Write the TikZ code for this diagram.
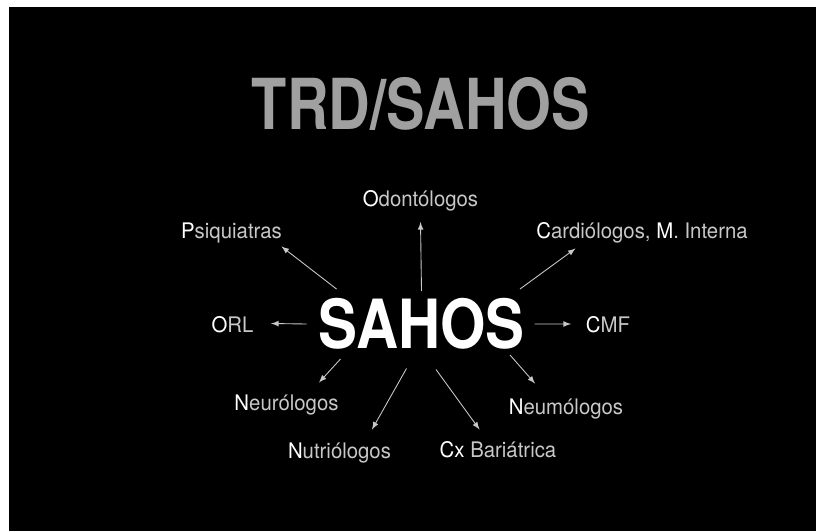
\documentclass[tikz,border=0pt]{standalone}
\usepackage{fontspec}
\usepackage{tikz}
\usetikzlibrary{arrows}
\tikzset{>=latex}
\newfontfamily\labelfont[FakeStretch=0.95]{TeX Gyre Heros}
\newfontfamily\titlefont[FakeStretch=0.82]{TeX Gyre Heros}
\newfontfamily\sahosfont[FakeStretch=0.86]{TeX Gyre Heros}
\definecolor{mygray1}{RGB}{160,160,160}
\definecolor{mygray2}{RGB}{200,200,200}
\newcommand{\W}[1]{{\color{white}#1}}
\tikzset{lbl/.style={anchor=base, inner sep=0pt, text=mygray2, font=\labelfont\fontsize{12.2}{14}\selectfont},
  arr/.style={->, >=latex, mygray2, line width=0.5pt}}

\begin{document}
\begin{tikzpicture}[scale = 1]
\useasboundingbox (0,0) rectangle (16.32,10.62);
\fill[white] (0,0) rectangle (16.32,10.62);
\fill[black] (0.18,0) rectangle (16.32,10.48);
% title and centre word
\node[anchor=base, inner sep=0pt, text=mygray1, font=\titlefont\bfseries\fontsize{40}{44}\selectfont] (title) at (8.42,8.02) {TRD/SAHOS};
\node[anchor=base, inner sep=0pt, text=white, font=\sahosfont\bfseries\fontsize{38.6}{42}\selectfont] (sahos) at (8.43,3.65) {SAHOS};
% specialists
\node[lbl] (odont) at (8.41,6.48) {\W{O}dontólogos};
\node[lbl] (psiq) at (4.63,5.86) {\W{P}siquiatras};
\node[lbl] (cardio) at (12.84,5.86) {\W{C}ardiólogos, \W{M}. Interna};
\node[lbl] (orl) at (4.65,3.98) {\W{O}RL};
\node[lbl] (cmf) at (12.16,3.98) {\W{C}MF};
\node[lbl] (neuro) at (5.73,2.41) {\W{N}eurólogos};
\node[lbl] (neumo) at (11.32,2.34) {\W{N}eumólogos};
\node[lbl] (nutri) at (6.79,1.45) {\W{N}utriólogos};
\node[lbl] (cx) at (9.96,1.47) {\W{Cx} Bariátrica};
% arrows
\draw[arr] ([shift={(-1.70,1.19)}]sahos.base) -- ([shift={(1.00,-0.17)}]psiq.base);
\draw[arr] ([shift={(0,1.15)}]sahos.base) -- ([shift={(0,-0.30)}]odont.base);
\draw[arr] ([shift={(1.97,1.19)}]sahos.base) -- ([shift={(-1.33,-0.21)}]cardio.base);
\draw[arr] ([shift={(-2.30,0.49)}]sahos.base) -- ([shift={(0.77,0.17)}]orl.base);
\draw[arr] ([shift={(2.26,0.49)}]sahos.base) -- ([shift={(-0.74,0.16)}]cmf.base);
\draw[arr] ([shift={(-1.62,-0.21)}]sahos.base) -- ([shift={(0.65,0.56)}]neuro.base);
\draw[arr] ([shift={(-0.30,-0.40)}]sahos.base) -- ([shift={(0.65,0.58)}]nutri.base);
\draw[arr] ([shift={(0.29,-0.42)}]sahos.base) -- ([shift={(-0.37,0.56)}]cx.base);
\draw[arr] ([shift={(1.77,-0.13)}]sahos.base) -- ([shift={(-0.62,0.61)}]neumo.base);
\end{tikzpicture}
\end{document}
